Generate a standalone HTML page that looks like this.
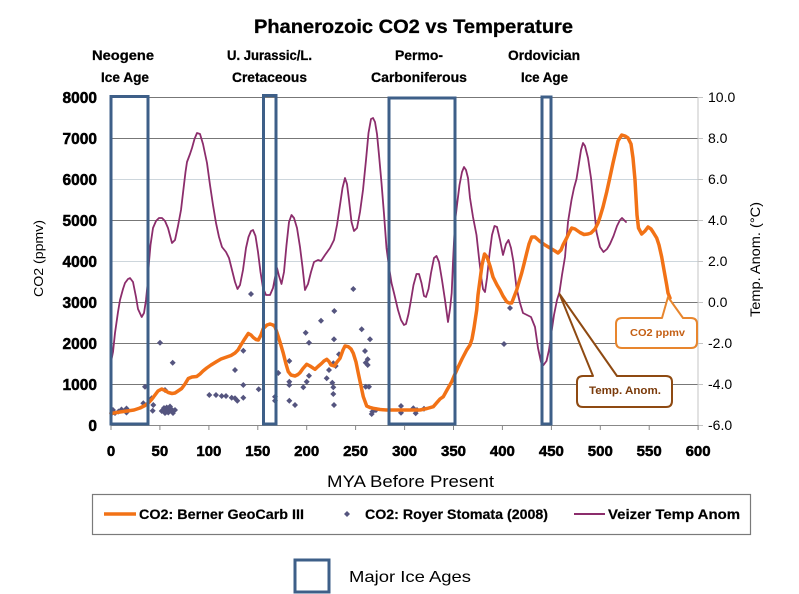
<!DOCTYPE html>
<html>
<head>
<meta charset="utf-8">
<style>
html,body{margin:0;padding:0;background:#fff;}
svg{display:block;font-family:"Liberation Sans",Arial,sans-serif;}
</style>
</head>
<body>
<svg width="799" height="594" viewBox="0 0 799 594" xmlns="http://www.w3.org/2000/svg">
<rect x="0" y="0" width="799" height="594" fill="#ffffff"/>

<!-- Title -->
<text x="254" y="33" font-size="19" font-weight="bold" fill="#000" stroke="#000" stroke-width="0.3" textLength="319" lengthAdjust="spacingAndGlyphs">Phanerozoic CO2 vs Temperature</text>

<!-- Period labels -->
<g font-size="13.5" font-weight="bold" fill="#000" stroke="#000" stroke-width="0.25">
<text x="92" y="60" textLength="62" lengthAdjust="spacingAndGlyphs">Neogene</text>
<text x="101" y="82" textLength="48" lengthAdjust="spacingAndGlyphs">Ice Age</text>
<text x="227" y="60" textLength="85" lengthAdjust="spacingAndGlyphs">U. Jurassic/L.</text>
<text x="232" y="82" textLength="75" lengthAdjust="spacingAndGlyphs">Cretaceous</text>
<text x="395" y="60" textLength="48" lengthAdjust="spacingAndGlyphs">Permo-</text>
<text x="371" y="82" textLength="96" lengthAdjust="spacingAndGlyphs">Carboniferous</text>
<text x="508" y="60" textLength="72" lengthAdjust="spacingAndGlyphs">Ordovician</text>
<text x="521" y="82" textLength="47" lengthAdjust="spacingAndGlyphs">Ice Age</text>
</g>

<!-- Gridlines -->
<g stroke-width="1">
<line x1="111" y1="97.5" x2="698" y2="97.5" stroke="#777"/>
<line x1="111" y1="138.5" x2="698" y2="138.5" stroke="#777"/>
<line x1="111" y1="179.5" x2="698" y2="179.5" stroke="#cdd6dc"/>
<line x1="111" y1="220.5" x2="698" y2="220.5" stroke="#777"/>
<line x1="111" y1="261.5" x2="698" y2="261.5" stroke="#cdd6dc"/>
<line x1="111" y1="302.5" x2="698" y2="302.5" stroke="#777"/>
<line x1="111" y1="343.5" x2="698" y2="343.5" stroke="#777"/>
<line x1="111" y1="384.5" x2="698" y2="384.5" stroke="#777"/>
</g>
<!-- right axis -->
<line x1="698" y1="97" x2="698" y2="425" stroke="#c4c4c4" stroke-width="1"/>
<g stroke="#c4c4c4" stroke-width="1">
<line x1="698" y1="97.5" x2="703" y2="97.5"/>
<line x1="698" y1="138.5" x2="703" y2="138.5"/>
<line x1="698" y1="179.5" x2="703" y2="179.5"/>
<line x1="698" y1="220.5" x2="703" y2="220.5"/>
<line x1="698" y1="261.5" x2="703" y2="261.5"/>
<line x1="698" y1="302.5" x2="703" y2="302.5"/>
<line x1="698" y1="343.5" x2="703" y2="343.5"/>
<line x1="698" y1="384.5" x2="703" y2="384.5"/>
<line x1="698" y1="425.5" x2="703" y2="425.5"/>
</g>
<!-- bottom axis -->
<line x1="111" y1="425.5" x2="698" y2="425.5" stroke="#888" stroke-width="1"/>
<g stroke="#888" stroke-width="1">
<line x1="111" y1="425" x2="111" y2="430"/>
<line x1="159.9" y1="425" x2="159.9" y2="430"/>
<line x1="208.9" y1="425" x2="208.9" y2="430"/>
<line x1="257.8" y1="425" x2="257.8" y2="430"/>
<line x1="306.7" y1="425" x2="306.7" y2="430"/>
<line x1="355.6" y1="425" x2="355.6" y2="430"/>
<line x1="404.6" y1="425" x2="404.6" y2="430"/>
<line x1="453.5" y1="425" x2="453.5" y2="430"/>
<line x1="502.4" y1="425" x2="502.4" y2="430"/>
<line x1="551.4" y1="425" x2="551.4" y2="430"/>
<line x1="600.3" y1="425" x2="600.3" y2="430"/>
<line x1="649.2" y1="425" x2="649.2" y2="430"/>
<line x1="698.1" y1="425" x2="698.1" y2="430"/>
</g>

<!-- Left tick labels -->
<g font-size="15.5" font-weight="bold" fill="#000" stroke="#000" stroke-width="0.5" text-anchor="end">
<text x="97" y="103">8000</text>
<text x="97" y="144">7000</text>
<text x="97" y="185">6000</text>
<text x="97" y="226">5000</text>
<text x="97" y="267">4000</text>
<text x="97" y="308">3000</text>
<text x="97" y="349">2000</text>
<text x="97" y="390">1000</text>
<text x="97" y="431">0</text>
</g>

<!-- Right tick labels -->
<g font-size="14" fill="#000">
<text x="708" y="102">10.0</text>
<text x="708" y="143">8.0</text>
<text x="708" y="184">6.0</text>
<text x="708" y="225">4.0</text>
<text x="708" y="266">2.0</text>
<text x="708" y="307">0.0</text>
<text x="708" y="348">-2.0</text>
<text x="708" y="389">-4.0</text>
<text x="708" y="430">-6.0</text>
</g>

<!-- X tick labels -->
<g font-size="15" font-weight="bold" fill="#000" stroke="#000" stroke-width="0.5" text-anchor="middle">
<text x="111" y="456">0</text>
<text x="159.9" y="456">50</text>
<text x="208.9" y="456">100</text>
<text x="257.8" y="456">150</text>
<text x="306.7" y="456">200</text>
<text x="355.6" y="456">250</text>
<text x="404.6" y="456">300</text>
<text x="453.5" y="456">350</text>
<text x="502.4" y="456">400</text>
<text x="551.4" y="456">450</text>
<text x="600.3" y="456">500</text>
<text x="649.2" y="456">550</text>
<text x="698.1" y="456">600</text>
</g>

<!-- Axis titles -->
<text x="327" y="487" font-size="17" fill="#000" textLength="167" lengthAdjust="spacingAndGlyphs">MYA Before Present</text>
<text transform="translate(43,297) rotate(-90)" x="0" y="0" font-size="13" fill="#000" textLength="77" lengthAdjust="spacingAndGlyphs">CO2 (ppmv)</text>
<text transform="translate(760,317) rotate(-90)" x="0" y="0" font-size="13.5" fill="#000" textLength="115" lengthAdjust="spacingAndGlyphs">Temp. Anom. (°C)</text>

<!-- Veizer temperature (purple) -->
<polyline fill="none" stroke="#8c2d6c" stroke-width="1.8" stroke-linejoin="round" stroke-linecap="round"
points="111,362 113,352 115,333 118,312 120,300 123,289 125,283 128,279 130,278 133,282 136,297 138,309 141.7,317 144,313 146,300 147.5,285 149,262 150.5,245 153,228 156,221 159,218 162,218 165,221 168,228 172,243 175,240 178,226 181,210 183,193 185.5,172 187,162 190,154 192,148 194.5,139 197,133 200,134 203,144 207,163 210,185 213,205 216,223 219,237 222,247 226,252 229,258 232,270 235,282 237.5,289 240,285 243,270 246,248 248.5,237 251,231 253,230 255.5,236 258,252 260.5,272 263,288 266,295 270,295 273,288 275.5,275 277,268 279,276 281.5,284 284,272 286.5,245 289,222 291.5,215 294,218 297,228 300,247 302.5,267 305,290 308,284 311,272 314,262 318,260 321,261 325,255 330,248 334,240 337,225 340,205 342.5,188 345,178 347,184 349,200 351.5,222 354,231 357,228 360,212 363,190 366,160 368.5,133 371,119 373,118 375,122 377,134 379,155 381.5,183 384,214 386.5,248 389,267 391.5,283 394,293 398,310 401,320 404,325 406,324 408.5,314 411,300 413.5,285 416.5,274 419,274 421.5,283 424,296 426,297 428.5,289 431,273 434,258 436.5,256 439,262 442,280 445,300 448,322 450,309 451.7,293 453,262 455,222 457,205 459.5,185 462,172 464,167 466,170 468,178 470,198 473,217 476.5,235 479,258 481.5,279 483,289 485,292 487,278 489.5,254 492,235 494.5,226 497,227 500,240 503,255 506,244 508.5,240 511,248 513.5,262 516.5,288 520,303 523,313 527,315 531,317 535,327 538,348 541,362 543.5,365 546.5,361 549,350 551.5,332 554,315 557,300 559.5,292 562,275 565,257 568,222 571.5,200 574,188 576.5,179 579,163 581,150 583,143 585,146 588,158 591,178 593.3,200 596.5,232 600,247 603.5,252 607,249 610,244 613.5,236 617,226 620,220 622,218 624,220 626,222"/>

<!-- Royer stomata scatter -->
<path fill="#55557f" d="
M113,407l3,3l-3,3l-3,-3z M115,410l3,3l-3,3l-3,-3z M118.5,408.5l3,3l-3,3l-3,-3z M121.5,406.5l3,3l-3,3l-3,-3z M126.5,405.5l3,3l-3,3l-3,-3z M126.5,409.5l3,3l-3,3l-3,-3z M112,410l3,3l-3,3l-3,-3z
M143.3,400.3l3,3l-3,3l-3,-3z M145,383.7l3,3l-3,3l-3,-3z M151.7,395.3l3,3l-3,3l-3,-3z M153.3,402l3,3l-3,3l-3,-3z M152.7,407.7l3,3l-3,3l-3,-3z M160,339.7l3,3l-3,3l-3,-3z M172.7,359.7l3,3l-3,3l-3,-3z M165,387l3,3l-3,3l-3,-3z
M163,407l3,3l-3,3l-3,-3z M166.7,404.5l3,3l-3,3l-3,-3z M168.3,409.5l3,3l-3,3l-3,-3z M170,403.5l3,3l-3,3l-3,-3z M171.7,406.5l3,3l-3,3l-3,-3z M175,407l3,3l-3,3l-3,-3z M165,410l3,3l-3,3l-3,-3z M161.7,408l3,3l-3,3l-3,-3z M173,410l3,3l-3,3l-3,-3z M164,405l3,3l-3,3l-3,-3z M167,407l3,3l-3,3l-3,-3z M169,408l3,3l-3,3l-3,-3z
M209.3,392l3,3l-3,3l-3,-3z M216,392l3,3l-3,3l-3,-3z M221.7,393l3,3l-3,3l-3,-3z M226,393l3,3l-3,3l-3,-3z M231.7,394.7l3,3l-3,3l-3,-3z M235,367l3,3l-3,3l-3,-3z M235,395.3l3,3l-3,3l-3,-3z M237.3,397.7l3,3l-3,3l-3,-3z M243.3,347.7l3,3l-3,3l-3,-3z M243.3,382l3,3l-3,3l-3,-3z M243.3,394.7l3,3l-3,3l-3,-3z M251,291l3,3l-3,3l-3,-3z M258.7,386.3l3,3l-3,3l-3,-3z
M275,393.7l3,3l-3,3l-3,-3z M275,397.7l3,3l-3,3l-3,-3z M278.3,370l3,3l-3,3l-3,-3z M289.3,358l3,3l-3,3l-3,-3z M289.3,378.7l3,3l-3,3l-3,-3z M289.3,382l3,3l-3,3l-3,-3z M289.3,397.7l3,3l-3,3l-3,-3z M295,402l3,3l-3,3l-3,-3z
M303.3,384.3l3,3l-3,3l-3,-3z M305.7,329.7l3,3l-3,3l-3,-3z M306.7,378.7l3,3l-3,3l-3,-3z M309,339.7l3,3l-3,3l-3,-3z M309,372.7l3,3l-3,3l-3,-3z M321,317.7l3,3l-3,3l-3,-3z M326.7,375.3l3,3l-3,3l-3,-3z M329,367l3,3l-3,3l-3,-3z M332.3,379.7l3,3l-3,3l-3,-3z M333.3,384.3l3,3l-3,3l-3,-3z M333.3,391l3,3l-3,3l-3,-3z M334,402l3,3l-3,3l-3,-3z M334,336.3l3,3l-3,3l-3,-3z M334.3,308l3,3l-3,3l-3,-3z M333.3,360.3l3,3l-3,3l-3,-3z M335.7,363l3,3l-3,3l-3,-3z M339,351.3l3,3l-3,3l-3,-3z
M353.3,286l3,3l-3,3l-3,-3z M361.7,326.3l3,3l-3,3l-3,-3z M370,336.3l3,3l-3,3l-3,-3z M365,348l3,3l-3,3l-3,-3z M367.7,356.3l3,3l-3,3l-3,-3z M365.7,359.7l3,3l-3,3l-3,-3z M367.7,362l3,3l-3,3l-3,-3z M365.7,383.7l3,3l-3,3l-3,-3z M369,383.7l3,3l-3,3l-3,-3z M372.3,408.7l3,3l-3,3l-3,-3z M374,407l3,3l-3,3l-3,-3z M371.7,411l3,3l-3,3l-3,-3z M376,407l3,3l-3,3l-3,-3z
M401,403l3,3l-3,3l-3,-3z M401,409.7l3,3l-3,3l-3,-3z M413.3,405.3l3,3l-3,3l-3,-3z M415.7,410.3l3,3l-3,3l-3,-3z M424,405.7l3,3l-3,3l-3,-3z M417,407l3,3l-3,3l-3,-3z M504,341l3,3l-3,3l-3,-3z M510,305l3,3l-3,3l-3,-3z"/>

<!-- Berner GeoCarb III (orange) -->
<polyline fill="none" stroke="#f27216" stroke-width="3.5" stroke-linejoin="round" stroke-linecap="round"
points="111,413.5 120,412 127,411 134,410 140,408 145,405.5 148.3,403 152,399 155,395 158,391 161.7,389 165,390.5 168.3,392.5 172,393.5 175,393 178,391 181.7,388.5 185,384 188.3,378.5 192,377 196.7,376.5 200,374 203,371 206.7,368 211,365 216.7,361.5 221,359 226.7,357 231,355.5 235,353 238,350 240,346.5 244,340 248.3,333.5 251,335 253.3,337.5 256,339.5 258.3,340 261,335 263.3,328.5 267,325 270,324 273,325 275,326.7 278.3,336.7 280,342 283.3,353.3 286,364 288.3,371.7 291,375 295,376 298,374.5 300,372.7 303,368.5 306.7,364.3 310,366 315,369.3 318,366.5 321.7,363.3 324,361 326.7,359.3 329,361.5 331,365 334.3,366 337,362 340,358.3 343,350 345,346 348.3,346.7 351,349 353.3,353.3 356,362 358.3,373.3 361,386 363.3,396.7 366.7,406 370,407.5 373.3,408.3 380,409.5 386.7,410 403,410 420,410 427,408.5 433.3,406.7 440,399 443.3,396.7 447,390 451.7,381.7 455,374 458.3,366.7 462,359 466.7,350 470,345 472,339 474,328 476.7,310 478,295 480,280 482,265 484.5,254 487,257 490,266 493,277 497,285 500,290 503,296 506.7,301.7 509,303 511.7,303 514,297 516.7,290 519,282 521.7,273 524,264 526.7,253 529,244 531.7,237 535,237 540,241.5 545,245 550,248 555,251 558,253 561,250 563,245 566.7,238 569,233 571.7,228 575,229 580,232.5 584,234.5 588,234 591,233 595,229 598,223 600,217 603,207 606.7,192 610,177 613,163 616,150 618,141 621.7,135 625,136 628,138 631,144 633,158 635,180 637,215 638.5,228 641.7,234 645,231 648,227 651,229 653,232 656.7,238 659,245 661.7,257 664,270 666.7,285 668,293 670,298"/>

<!-- Ice age boxes -->
<g fill="none" stroke="#3e5f88" stroke-width="3">
<rect x="111" y="96.5" width="37" height="327.5"/>
<rect x="263.5" y="95.5" width="12.5" height="328.5"/>
<rect x="389" y="98" width="66" height="326"/>
<rect x="542" y="97" width="9" height="327"/>
</g>

<!-- Callout: CO2 ppmv -->
<path d="M622,318 L662,318 L668,297 L683,318 L691,318 Q697,318 697,324 L697,342 Q697,348 691,348 L622,348 Q616,348 616,342 L616,324 Q616,318 622,318 Z" fill="#ffffff" stroke="#e8862e" stroke-width="2" stroke-linejoin="round"/>
<text x="630" y="336" font-size="10.5" font-weight="bold" fill="#c45f14" textLength="55" lengthAdjust="spacingAndGlyphs">CO2 ppmv</text>

<!-- Callout: Temp. Anom. -->
<path d="M583,376 L593,376 L559.5,294 L617,376 L666,376 Q672,376 672,382 L672,401 Q672,407 666,407 L583,407 Q577,407 577,401 L577,382 Q577,376 583,376 Z" fill="#ffffff" stroke="#8e4a12" stroke-width="2" stroke-linejoin="round"/>
<text x="589" y="394" font-size="11" font-weight="bold" fill="#7a3a0a" textLength="72" lengthAdjust="spacingAndGlyphs">Temp. Anom.</text>

<!-- Legend -->
<rect x="92.5" y="494.5" width="658" height="40" fill="#ffffff" stroke="#7a7a7a" stroke-width="1.2"/>
<line x1="104" y1="514" x2="136" y2="514" stroke="#f27216" stroke-width="3.5"/>
<text x="139" y="519" font-size="13.5" font-weight="bold" fill="#000" stroke="#000" stroke-width="0.2" textLength="165" lengthAdjust="spacingAndGlyphs">CO2: Berner GeoCarb III</text>
<path d="M347,511l3,3l-3,3l-3,-3z" fill="#55557f"/>
<text x="365" y="519" font-size="13.5" font-weight="bold" fill="#000" stroke="#000" stroke-width="0.2" textLength="183" lengthAdjust="spacingAndGlyphs">CO2: Royer Stomata (2008)</text>
<line x1="574" y1="514" x2="605" y2="514" stroke="#8c2d6c" stroke-width="2"/>
<text x="608" y="519" font-size="13.5" font-weight="bold" fill="#000" stroke="#000" stroke-width="0.2" textLength="132" lengthAdjust="spacingAndGlyphs">Veizer Temp Anom</text>

<!-- Major Ice Ages key -->
<rect x="295" y="560" width="34" height="32" fill="none" stroke="#3e5f88" stroke-width="3"/>
<text x="349" y="582" font-size="16" fill="#000" textLength="122" lengthAdjust="spacingAndGlyphs">Major Ice Ages</text>
</svg>
</body>
</html>
